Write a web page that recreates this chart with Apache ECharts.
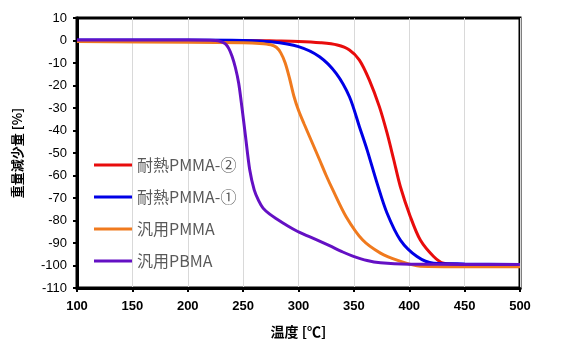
<!DOCTYPE html>
<html>
<head>
<meta charset="utf-8">
<script src="https://cdn.jsdelivr.net/npm/echarts@6/dist/echarts.min.js"></script>
<style>
html,body{margin:0;padding:0;background:#fff;}
#chart{width:585px;height:353px;}
</style>
</head>
<body>
<div id="chart"></div>
<script>
// Series names (legend order)
const seriesNames = ['耐熱PMMA-②', '耐熱PMMA-①', '汎用PMMA', '汎用PBMA'];

// 耐熱PMMA-②
const tempPMMA2 = [100, 200, 250, 280, 300, 320, 335, 346, 355, 364, 373, 380, 386, 392, 401, 410, 422, 431, 450, 500];
const lossPMMA2 = [0, 0, 0, -0.2, -0.4, -1.0, -2.0, -4.2, -8.7, -17.6, -29.4, -41.2, -53, -65, -78.3, -88.7, -96, -99, -99.6, -100.2];

// 耐熱PMMA-①
const tempPMMA1 = [100, 200, 250, 275, 300, 319, 334, 346, 355, 362, 371, 380, 392, 407, 422, 450, 500];
const lossPMMA1 = [0.2, 0.2, 0, -0.6, -2.7, -7.2, -14.6, -25, -38.3, -48.7, -63.5, -76.8, -88.7, -96, -99, -99.3, -99.5];

// 汎用PMMA
const tempPMMA = [100, 200, 250, 265, 275, 280, 284, 288, 292, 296, 300, 305, 312, 319, 325, 331, 343, 358, 374, 389, 410, 450, 500];
const lossPMMA = [-0.5, -0.8, -1.0, -1.3, -1.9, -3, -5.5, -10, -17, -25, -31, -37, -45, -53, -60, -66.4, -78.3, -88.7, -94.5, -97.6, -100.3, -100.5, -100.5];

// 汎用PBMA
const tempPBMA = [100, 200, 225, 230, 234, 237, 240, 243, 246, 249, 252, 256, 260, 264, 268, 274, 280, 290, 301, 315, 328, 340, 349, 362, 374, 400, 450, 500];
const lossPBMA = [0.2, 0.2, 0, -0.5, -1.5, -3.5, -7, -12, -19, -30, -42, -57.6, -66.4, -71.2, -74.5, -77.2, -79.2, -82.3, -85.3, -88.3, -91.2, -94, -95.8, -97.8, -98.8, -99.4, -99.5, -99.6];

// Axis ticks
const xTicks = {min: 100, max: 500, interval: 50};
const yTicks = {min: -110, max: 10, interval: 10};

const colors = ['#E80C0C', '#0000E6', '#F07A1E', '#6410C4'];
const temps = [tempPMMA2, tempPMMA1, tempPMMA, tempPBMA];
const losses = [lossPMMA2, lossPMMA1, lossPMMA, lossPBMA];

const zip = (a, b) => a.map((v, i) => [v, b[i]]);

const chart = echarts.init(document.getElementById('chart'), null, {renderer: 'canvas'});
chart.setOption({
  animation: false,
  backgroundColor: '#fff',
  grid: {
    left: 77, right: 65, top: 18, bottom: 65,
    show: true, borderColor: '#000', borderWidth: 3, backgroundColor: 'transparent'
  },
  legend: {
    data: seriesNames,
    orient: 'vertical',
    left: 94, top: 155,
    padding: 0,
    itemWidth: 38, itemHeight: 3,
    itemGap: 12,
    icon: 'rect',
    textStyle: {fontSize: 16, color: '#595959', fontFamily: 'Noto Sans CJK JP', lineHeight: 20}
  },
  xAxis: {
    type: 'value',
    min: xTicks.min, max: xTicks.max, interval: xTicks.interval,
    name: '温度 [℃]',
    nameLocation: 'middle',
    nameGap: 37,
    nameTextStyle: {fontSize: 14, fontWeight: 'bold', color: '#000', fontFamily: 'Noto Sans CJK JP'},
    axisLine: {show: true, onZero: false, lineStyle: {color: '#000', width: 3}},
    axisTick: {show: true, length: 4, lineStyle: {color: '#000', width: 2}},
    axisLabel: {fontSize: 13, fontWeight: 'bold', color: '#000', fontFamily: 'Liberation Sans', margin: 12},
    splitLine: {show: true, lineStyle: {color: '#d9d9d9', width: 1}}
  },
  yAxis: {
    type: 'value',
    min: yTicks.min, max: yTicks.max, interval: yTicks.interval,
    name: '重量減少量 [%]',
    nameLocation: 'middle',
    nameRotate: 90,
    nameGap: 53,
    nameTextStyle: {fontSize: 13, fontWeight: 'bold', color: '#000', fontFamily: 'Noto Sans CJK JP'},
    axisLine: {show: true, onZero: false, lineStyle: {color: '#000', width: 3}},
    axisTick: {show: true, length: 4, lineStyle: {color: '#000', width: 2}},
    axisLabel: {fontSize: 13, color: '#000', fontFamily: 'Liberation Sans', margin: 10},
    splitLine: {show: false}
  },
  series: seriesNames.map((name, i) => ({
    name: name,
    type: 'line',
    data: zip(temps[i], losses[i]),
    showSymbol: false,
    symbol: 'none',
    smooth: 0.3,
    color: colors[i],
    lineStyle: {width: 3, color: colors[i]},
    clip: true
  }))
});
</script>
</body>
</html>
